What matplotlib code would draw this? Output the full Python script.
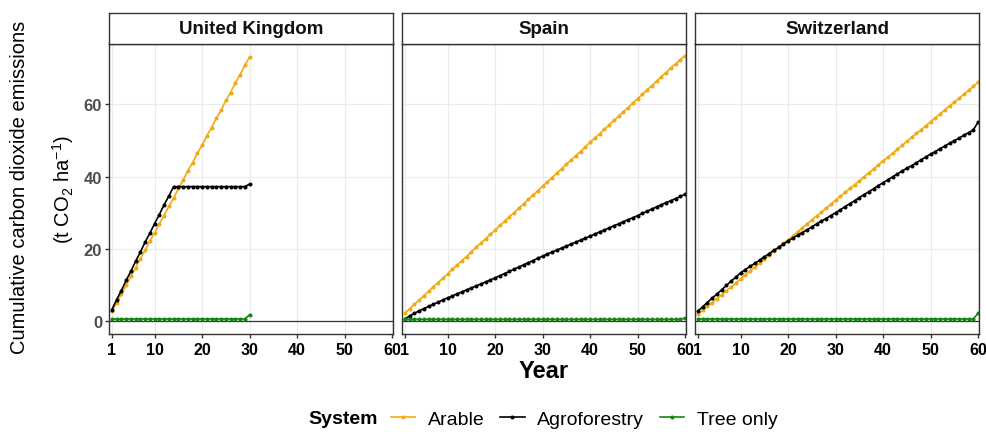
import matplotlib as mpl
mpl.use('Agg')
import matplotlib.pyplot as plt
from matplotlib.lines import Line2D
import numpy as np

plt.rcParams['font.family'] = ['Liberation Sans', 'DejaVu Sans']
plt.rcParams['mathtext.fontset'] = 'custom'
plt.rcParams['mathtext.rm'] = 'Liberation Sans'
plt.rcParams['mathtext.it'] = 'Liberation Sans:italic'

# Cumulative CO2 emissions (t CO2 / ha) per year and system
uk_years = list(range(1, 31))
uk_arable = [2.8, 5.0, 7.6, 9.9, 12.5, 14.8, 17.3, 19.6, 22.2, 24.4,
             27.0, 29.2, 31.8, 34.0, 36.7, 39.0, 41.6, 43.8, 46.4, 48.6,
             51.3, 53.5, 56.1, 58.3, 61.0, 63.2, 65.9, 68.1, 70.7, 73.0]
uk_agroforestry = [3.2, 6.0, 8.5, 11.3, 13.8, 16.6, 19.1, 21.9, 24.3, 27.0,
                   29.5, 32.2, 34.6, 37.2, 37.2, 37.2, 37.2, 37.2, 37.2, 37.2,
                   37.2, 37.2, 37.2, 37.2, 37.2, 37.2, 37.2, 37.2, 37.2, 37.9]
uk_tree = [0.65] * 29 + [1.8]

es_years = list(range(1, 61))
es_arable = [2.3, 3.4, 4.7, 5.8, 7.1, 8.3, 9.5, 10.7, 11.9, 13.1,
             14.4, 15.5, 16.8, 17.9, 19.2, 20.4, 21.6, 22.8, 24.0, 25.2,
             26.5, 27.6, 28.9, 30.0, 31.3, 32.4, 33.7, 34.9, 36.1, 37.3,
             38.5, 39.7, 41.0, 42.1, 43.4, 44.5, 45.8, 46.9, 48.2, 49.4,
             50.6, 51.8, 53.0, 54.2, 55.5, 56.6, 57.9, 59.0, 60.3, 61.5,
             62.7, 63.9, 65.1, 66.3, 67.6, 68.7, 70.0, 71.1, 72.3, 73.4]
es_agroforestry = [0.6, 1.5, 2.2, 2.9, 3.5, 4.1, 4.7, 5.3, 5.9, 6.5,
                   7.0, 7.6, 8.1, 8.7, 9.2, 9.8, 10.3, 10.9, 11.4, 12.0,
                   12.6, 13.2, 13.8, 14.4, 15.0, 15.6, 16.2, 16.8, 17.4, 18.0,
                   18.6, 19.1, 19.7, 20.2, 20.8, 21.3, 21.9, 22.4, 23.0, 23.5,
                   24.1, 24.7, 25.2, 25.8, 26.4, 26.9, 27.5, 28.1, 28.6, 29.2,
                   29.8, 30.4, 31.0, 31.6, 32.2, 32.8, 33.3, 33.9, 34.5, 35.1]
es_tree = [0.55] * 59 + [0.9]

ch_years = list(range(1, 61))
ch_arable = [1.9, 3.0, 4.1, 5.2, 6.3, 7.3, 8.4, 9.5, 10.6, 11.7,
             12.8, 13.9, 14.9, 16.0, 17.1, 18.2, 19.3, 20.4, 21.5, 22.5,
             23.6, 24.7, 25.8, 26.9, 28.0, 29.1, 30.1, 31.2, 32.3, 33.4,
             34.5, 35.6, 36.7, 37.7, 38.8, 39.9, 41.0, 42.1, 43.2, 44.3,
             45.3, 46.4, 47.5, 48.6, 49.7, 50.8, 51.9, 52.9, 54.0, 55.1,
             56.2, 57.3, 58.4, 59.5, 60.5, 61.6, 62.7, 63.8, 64.9, 66.0]
ch_agroforestry = [2.8, 4.0, 5.2, 6.4, 7.5, 8.7, 9.9, 11.1, 12.2, 13.4,
                   14.3, 15.2, 16.0, 16.9, 17.8, 18.7, 19.6, 20.4, 21.3, 22.2,
                   23.0, 23.8, 24.5, 25.3, 26.1, 26.9, 27.7, 28.4, 29.2, 30.0,
                   30.8, 31.7, 32.5, 33.3, 34.2, 35.0, 35.8, 36.6, 37.5, 38.3,
                   39.1, 39.9, 40.7, 41.5, 42.3, 43.0, 43.8, 44.6, 45.4, 46.2,
                   46.9, 47.7, 48.4, 49.2, 49.9, 50.6, 51.4, 52.1, 52.9, 55.0]
ch_tree = [0.65] * 59 + [2.2]

countries = ['United Kingdom', 'Spain', 'Switzerland']
systems = ['Arable', 'Agroforestry', 'Tree only']
colours = {'Arable': '#F0AB14', 'Agroforestry': '#000000',
           'Tree only': '#118811'}
panels = [
    (uk_years, {'Arable': uk_arable, 'Agroforestry': uk_agroforestry,
                'Tree only': uk_tree}),
    (es_years, {'Arable': es_arable, 'Agroforestry': es_agroforestry,
                'Tree only': es_tree}),
    (ch_years, {'Arable': ch_arable, 'Agroforestry': ch_agroforestry,
                'Tree only': ch_tree}),
]
x_ticks = [1, 10, 20, 30, 40, 50, 60]
y_ticks = [0, 20, 40, 60]

W, H = 987, 435
fig = plt.figure(figsize=(W / 100, H / 100), dpi=100)

edge = '#333333'
lefts = [109, 402, 695]
panel_w, top, bottom, strip_top = 284, 45, 335, 14

for i, (name, (years, series)) in enumerate(zip(countries, panels)):
    left = lefts[i]
    ax = fig.add_axes([left / W, (H - bottom) / H, panel_w / W,
                       (bottom - top) / H])
    ax.grid(True, color='#EBEBEB', linewidth=0.8)
    ax.set_axisbelow(True)
    ax.axhline(0, color=edge, linewidth=0.9, zorder=1)
    for s in systems:
        ax.plot(years, series[s], color=colours[s], linewidth=1.2,
                marker='o', markersize=1.9, zorder=2)
    ax.set_xlim(0.4, 60.2)
    ax.set_ylim(-3.5, 76.6)
    ax.set_xticks(x_ticks)
    ax.set_yticks(y_ticks)
    for sp in ax.spines.values():
        sp.set_color(edge)
        sp.set_linewidth(1.0)
    ax.tick_params(axis='x', length=3, width=1.0, color=edge, pad=2.5,
                   labelsize=11.5, labelcolor='black')
    for lab in ax.get_xticklabels():
        lab.set_fontweight('bold')
    if i == 0:
        ax.tick_params(axis='y', length=3, width=1.0, color=edge, pad=2,
                       labelsize=12, labelcolor='#4D4D4D')
        for lab in ax.get_yticklabels():
            lab.set_fontweight('bold')
    else:
        ax.tick_params(axis='y', length=0, labelleft=False)

    # facet strip
    sax = fig.add_axes([left / W, (H - top) / H, panel_w / W,
                        (top - strip_top) / H])
    sax.set_xticks([])
    sax.set_yticks([])
    for sp in sax.spines.values():
        sp.set_color(edge)
        sp.set_linewidth(1.0)
    sax.text(0.5, 0.5, name, ha='center', va='center', fontsize=13.5,
             fontweight='bold', color='#111111', transform=sax.transAxes)

fig.text(20 / W, 1 - 187 / H, 'Cumulative carbon dioxide emissions',
         rotation=90, ha='center', va='center', fontsize=14.5)
fig.text(63 / W, 1 - 190 / H, r'(t CO$_2$ ha$^{-1}$)',
         rotation=90, ha='center', va='center', fontsize=14.5)
fig.text(544 / W, 1 - 372 / H, 'Year', ha='center', va='center',
         fontsize=17, fontweight='bold')

fig.text(308 / W, 1 - 420 / H, 'System', ha='left', va='center',
         fontsize=14, fontweight='bold')
handles = [Line2D([], [], color=colours[s], linewidth=1.2, marker='o',
                  markersize=1.9) for s in systems]
fig.legend(handles, systems, loc='center left',
           bbox_to_anchor=(391 / W, 1 - 420 / H), ncol=3, frameon=False,
           fontsize=14, handlelength=1.25, handletextpad=0.65,
           columnspacing=0.8, borderpad=0, borderaxespad=0, numpoints=1)

fig.savefig('out.png', dpi=100)
plt.close()
